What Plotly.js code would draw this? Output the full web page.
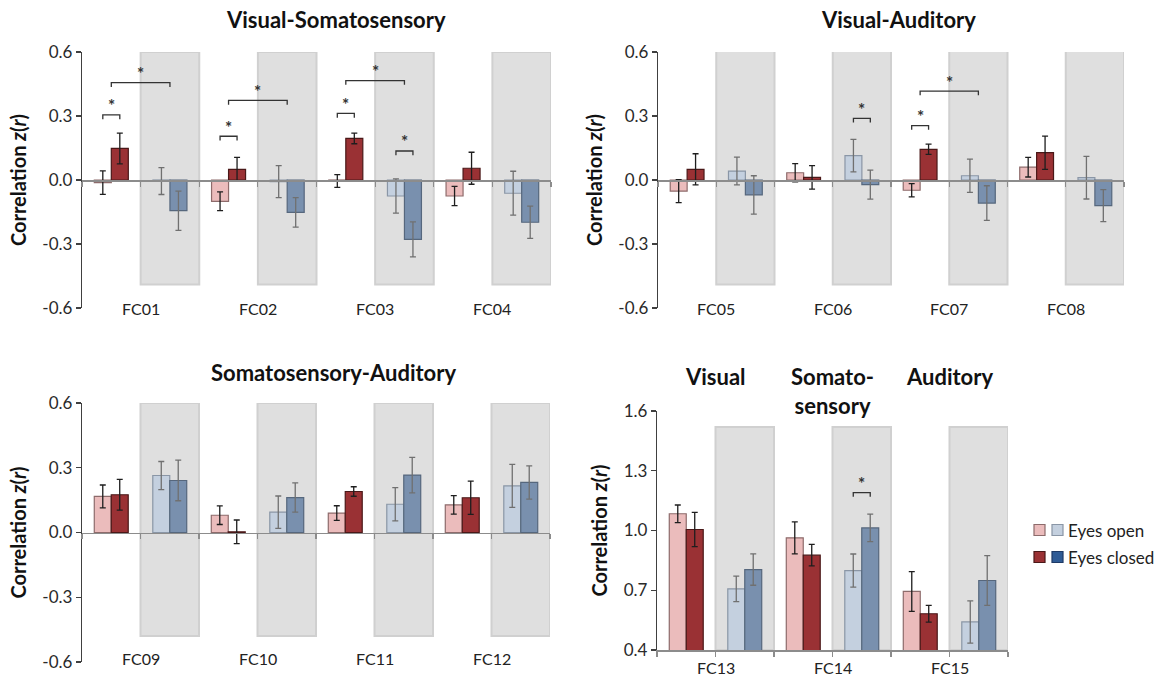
<!DOCTYPE html>
<html><head><meta charset="utf-8">
<script src="https://cdn.plot.ly/plotly-3.0.1.min.js"></script>
<style>html,body{margin:0;padding:0;background:#fff;}#chart{width:1163px;height:677px;}</style>
</head><body><div id="chart"></div>
<script>
// ---------- DATA ----------
// Visual-Somatosensory
const vsLabels = ['FC01','FC02','FC03','FC04'];
const vsRedOpen = [-0.012, -0.100, -0.005, -0.075];
const vsRedOpenErr = [0.055, 0.044, 0.030, 0.045];
const vsRedClosed = [0.148, 0.050, 0.195, 0.055];
const vsRedClosedErr = [0.072, 0.056, 0.025, 0.075];
const vsBlueOpen = [-0.005, -0.008, -0.075, -0.062];
const vsBlueOpenErr = [0.063, 0.075, 0.080, 0.103];
const vsBlueClosed = [-0.144, -0.152, -0.278, -0.198];
const vsBlueClosedErr = [0.092, 0.069, 0.082, 0.076];
const vsBrackets = [
  {fc:0, kind:'red', y:0.305}, {fc:0, kind:'span', y:0.456},
  {fc:1, kind:'red', y:0.205}, {fc:1, kind:'span', y:0.373},
  {fc:2, kind:'red', y:0.312}, {fc:2, kind:'span', y:0.466},
  {fc:2, kind:'blue', y:0.136}
];

// Visual-Auditory
const vaLabels = ['FC05','FC06','FC07','FC08'];
const vaRedOpen = [-0.052, 0.034, -0.048, 0.060];
const vaRedOpenErr = [0.054, 0.043, 0.031, 0.046];
const vaRedClosed = [0.050, 0.012, 0.144, 0.128];
const vaRedClosedErr = [0.073, 0.055, 0.024, 0.078];
const vaBlueOpen = [0.042, 0.114, 0.020, 0.011];
const vaBlueOpenErr = [0.065, 0.076, 0.078, 0.100];
const vaBlueClosed = [-0.070, -0.022, -0.108, -0.120];
const vaBlueClosedErr = [0.090, 0.068, 0.081, 0.075];
const vaBrackets = [
  {fc:1, kind:'blue', y:0.289},
  {fc:2, kind:'red', y:0.255}, {fc:2, kind:'span', y:0.417}
];

// Somatosensory-Auditory
const saLabels = ['FC09','FC10','FC11','FC12'];
const saRedOpen = [0.167, 0.080, 0.090, 0.128];
const saRedOpenErr = [0.053, 0.043, 0.034, 0.043];
const saRedClosed = [0.175, 0.003, 0.190, 0.161];
const saRedClosedErr = [0.071, 0.055, 0.022, 0.077];
const saBlueOpen = [0.264, 0.094, 0.131, 0.216];
const saBlueOpenErr = [0.065, 0.075, 0.077, 0.100];
const saBlueClosed = [0.241, 0.162, 0.266, 0.232];
const saBlueClosedErr = [0.094, 0.068, 0.082, 0.077];
const saBrackets = [];

// Within-network (Visual / Somatosensory / Auditory)
const wLabels = ['FC13','FC14','FC15'];
const wTitles = ['Visual','Somato-<br>sensory','Auditory'];
const wRedOpen = [1.084, 0.963, 0.694];
const wRedOpenErr = [0.044, 0.080, 0.100];
const wRedClosed = [1.005, 0.876, 0.582];
const wRedClosedErr = [0.086, 0.054, 0.042];
const wBlueOpen = [0.707, 0.799, 0.541];
const wBlueOpenErr = [0.064, 0.083, 0.106];
const wBlueClosed = [0.804, 1.013, 0.749];
const wBlueClosedErr = [0.079, 0.069, 0.125];
const wBrackets = [{fc:1, kind:'blue', y:1.19}];

const legendLabels = ['Eyes open','Eyes closed'];
const yTicksSym = [-0.6,-0.3,0,0.3,0.6];
const yTicksWithin = [0.4,0.7,1.0,1.3,1.6];

// ---------- STYLE ----------
const W=1163, H=677;
const px = v => v/W, py = v => 1 - v/H;
const FONT = 'Lato, "Open Sans", sans-serif';
const COL = {redOpen:'#ebbcbc', redClosed:'#9a3134', blueOpen:'#c4d0df', blueClosed:'#7990ae'};
const LINE = {redOpen:'#8d6b6b', redClosed:'#4a1818', blueOpen:'#8a96a6', blueClosed:'#56677d'};
const ERRC = {red:'#1e1e1e', blue:'#707070'};
const HALF = 0.145;   // half bar offset inside a group
const TICK = 0.02;    // bracket leg length

const panels = [
  {n:1, labels:vsLabels, ro:vsRedOpen, roE:vsRedOpenErr, rc:vsRedClosed, rcE:vsRedClosedErr,
   bo:vsBlueOpen, boE:vsBlueOpenErr, bc:vsBlueClosed, bcE:vsBlueClosedErr, brackets:vsBrackets,
   title:'Visual-Somatosensory', titleX:336, titleY:20, xd:[82,551], yd:[52,308], yr:[-0.6,0.6],
   yt:yTicksSym, shade:[-0.49,0.6], labY:308, zeroAxis:true},
  {n:2, labels:vaLabels, ro:vaRedOpen, roE:vaRedOpenErr, rc:vaRedClosed, rcE:vaRedClosedErr,
   bo:vaBlueOpen, boE:vaBlueOpenErr, bc:vaBlueClosed, bcE:vaBlueClosedErr, brackets:vaBrackets,
   title:'Visual-Auditory', titleX:898, titleY:20, xd:[658,1124], yd:[52,308], yr:[-0.6,0.6],
   yt:yTicksSym, shade:[-0.49,0.605], labY:308, zeroAxis:true},
  {n:3, labels:saLabels, ro:saRedOpen, roE:saRedOpenErr, rc:saRedClosed, rcE:saRedClosedErr,
   bo:saBlueOpen, boE:saBlueOpenErr, bc:saBlueClosed, bcE:saBlueClosedErr, brackets:saBrackets,
   title:'Somatosensory-Auditory', titleX:334, titleY:372, xd:[82,550], yd:[403,662], yr:[-0.6,0.6],
   yt:yTicksSym, shade:[-0.48,0.6], labY:658, zeroAxis:true},
  {n:4, labels:wLabels, ro:wRedOpen, roE:wRedOpenErr, rc:wRedClosed, rcE:wRedClosedErr,
   bo:wBlueOpen, boE:wBlueOpenErr, bc:wBlueClosed, bcE:wBlueClosedErr, brackets:wBrackets,
   title:null, xd:[657,1008], yd:[411,650], yr:[0.4,1.6],
   yt:yTicksWithin, shade:[0.4,1.52], labY:667, zeroAxis:false}
];

const traces = [];
const shapes = [];
const annotations = [];
const layout = {
  width:W, height:H, margin:{l:0,r:0,t:0,b:0},
  paper_bgcolor:'#ffffff', plot_bgcolor:'rgba(0,0,0,0)',
  barmode:'group', bargap:0.42, bargroupgap:0,
  showlegend:false, font:{family:FONT, color:'#333'}
};

panels.forEach(p => {
  const xs = p.n===1 ? '' : String(p.n);
  const xa = 'x'+xs, ya = 'y'+xs;
  const nG = p.labels.length*2;
  const redX = p.labels.map((_,k)=>2*k);
  const blueX = p.labels.map((_,k)=>2*k+1);
  const mk = (x, y, e, key, ec, grp, nm) => ({
    type:'bar', x:x, y:y, xaxis:xa, yaxis:ya, name:nm, offsetgroup:grp,
    marker:{color:COL[key], line:{color:LINE[key], width:1.2}},
    error_y:{type:'data', array:e, visible:true, color:ec, thickness:1.3, width:3},
    hoverinfo:'y'
  });
  traces.push(mk(redX, p.ro, p.roE, 'redOpen', ERRC.red, 'open', legendLabels[0]));
  traces.push(mk(redX, p.rc, p.rcE, 'redClosed', ERRC.red, 'closed', legendLabels[1]));
  traces.push(mk(blueX, p.bo, p.boE, 'blueOpen', ERRC.blue, 'open', legendLabels[0]));
  traces.push(mk(blueX, p.bc, p.bcE, 'blueClosed', ERRC.blue, 'closed', legendLabels[1]));

  const yDom = [py(p.yd[1]), py(p.yd[0])];
  const boundaries = [];
  for (let i=0;i<=nG;i++) boundaries.push(i-0.5);
  const xax = {
    domain:[px(p.xd[0]), px(p.xd[1])], range:[-0.5, nG-0.5],
    anchor: p.zeroAxis ? 'free' : ya,
    showline:true, linecolor:'#8c8c8c', linewidth:1.5,
    ticks:'outside', ticklen:5, tickwidth:1.2, tickcolor:'#8c8c8c',
    tickmode:'array', tickvals:boundaries, showticklabels:false,
    showgrid:false, zeroline:false, fixedrange:true
  };
  if (p.zeroAxis) xax.position = (yDom[0]+yDom[1])/2;
  layout['xaxis'+xs] = xax;
  layout['yaxis'+xs] = {
    domain:yDom, range:p.yr, anchor:xa,
    showline:true, linecolor:'#404040', linewidth:1.2,
    ticks:'outside', ticklen:5, tickwidth:1.2, tickcolor:'#404040',
    tickmode:'array', tickvals:p.yt, ticktext:p.yt.map(v => v.toFixed(1)),
    tickfont:{family:FONT, size:17, color:'#2a2a2a'},
    showgrid:false, zeroline:false, fixedrange:true,
    title:{text:'Correlation <i>z</i>(<i>r</i>)', standoff:10,
           font:{family:FONT, size:20, color:'#111', weight:'bold'}}
  };

  // shaded blue groups
  blueX.forEach(x => shapes.push({
    type:'rect', xref:xa, yref:ya, x0:x-0.5, x1:x+0.5, y0:p.shade[0], y1:p.shade[1],
    fillcolor:'#dfdfdf', line:{color:'#d0d0d0', width:2}, layer:'below'
  }));

  // FC labels
  p.labels.forEach((lab,k) => annotations.push({
    text:lab, xref:xa, yref:'paper', x:2*k+0.5, y:py(p.labY), yanchor:'middle',
    showarrow:false, font:{family:FONT, size:16, color:'#222'}
  }));

  // significance brackets
  p.brackets.forEach(b => {
    let x0, x1;
    if (b.kind==='red') { x0 = 2*b.fc-HALF; x1 = 2*b.fc+HALF; }
    else if (b.kind==='blue') { x0 = 2*b.fc+1-HALF; x1 = 2*b.fc+1+HALF; }
    else { x0 = 2*b.fc; x1 = 2*b.fc+1; }
    shapes.push({type:'path', xref:xa, yref:ya,
      path:`M ${x0},${b.y-TICK} L ${x0},${b.y} L ${x1},${b.y} L ${x1},${b.y-TICK}`,
      line:{color:'#333', width:1.3}});
    annotations.push({text:'*', xref:xa, yref:ya, x:(x0+x1)/2, y:b.y, yanchor:'middle',
      yshift:9, showarrow:false, font:{family:FONT, size:17, color:'#333', weight:'bold'}});
  });

  if (p.title) annotations.push({
    text:p.title, xref:'paper', yref:'paper', x:px(p.titleX), y:py(p.titleY),
    xanchor:'center', yanchor:'middle', showarrow:false,
    font:{family:FONT, size:22, color:'#111', weight:'bold'}
  });
});

// column titles of within-network panel
wTitles.forEach((t,k) => annotations.push({
  text:t, xref:'x4', yref:'paper', x:2*k+0.5, y:py(361), yanchor:'top',
  showarrow:false, font:{family:FONT, size:22, color:'#111', weight:'bold'}
}));

// legend (two swatches per row)
const legRows = [
  {y:530, c:[COL.redOpen, COL.blueOpen], l:[LINE.redOpen, LINE.blueOpen], t:legendLabels[0]},
  {y:557, c:[COL.redClosed, '#2f5b95'], l:['#4a1818', '#1e3a66'], t:legendLabels[1]}
];
legRows.forEach(r => {
  [1034, 1052].forEach((x,i) => shapes.push({
    type:'rect', xref:'paper', yref:'paper', x0:px(x), x1:px(x+11), y0:py(r.y+5.5), y1:py(r.y-5.5),
    fillcolor:r.c[i], line:{color:r.l[i], width:1.2}
  }));
  annotations.push({text:r.t, xref:'paper', yref:'paper', x:px(1066), y:py(r.y),
    xanchor:'left', yanchor:'middle', showarrow:false,
    font:{family:FONT, size:17, color:'#222'}});
});

layout.shapes = shapes;
layout.annotations = annotations;
Plotly.newPlot('chart', traces, layout, {displayModeBar:false, staticPlot:true});
</script>
</body></html>
